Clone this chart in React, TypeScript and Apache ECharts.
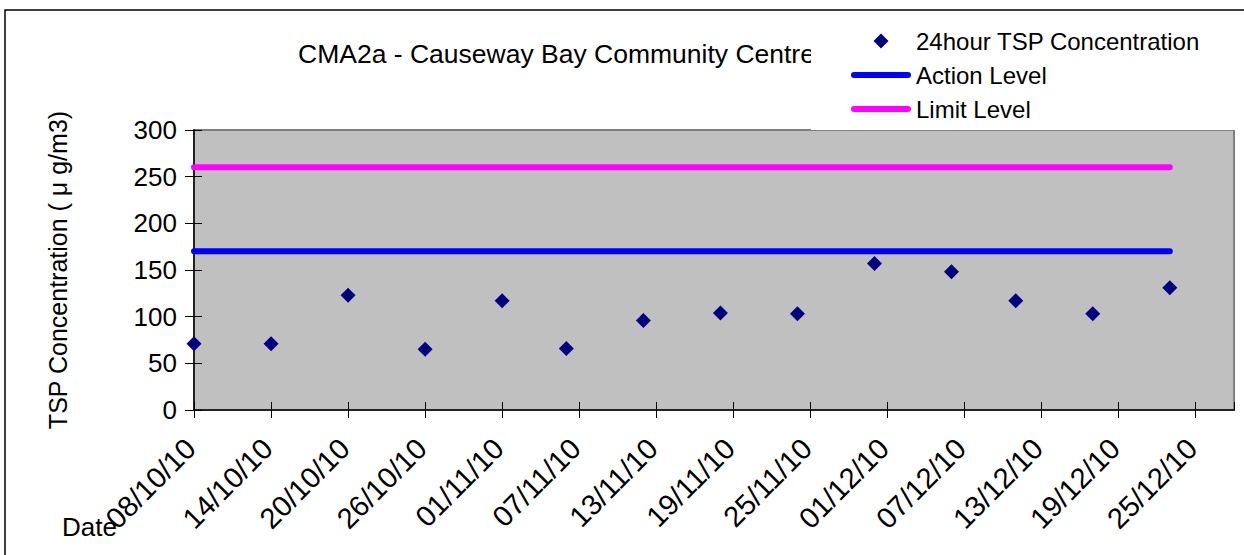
import React, { useEffect, useRef } from "react";
import * as echarts from "echarts";

const dates = ["08/10/10", "14/10/10", "20/10/10", "26/10/10", "01/11/10", "06/11/10", "12/11/10", "18/11/10", "24/11/10", "30/11/10", "06/12/10", "11/12/10", "17/12/10", "23/12/10"];
const tsp = [71, 71, 123, 65, 117, 66, 96, 104, 103, 157, 148, 117, 103, 131];
const actionLevel = [170, 170, 170, 170, 170, 170, 170, 170, 170, 170, 170, 170, 170, 170];
const limitLevel = [260, 260, 260, 260, 260, 260, 260, 260, 260, 260, 260, 260, 260, 260];
const xTickLabels = ["08/10/10", "14/10/10", "20/10/10", "26/10/10", "01/11/10", "07/11/10", "13/11/10", "19/11/10", "25/11/10", "01/12/10", "07/12/10", "13/12/10", "19/12/10", "25/12/10"];
const axisStartDate = "08/10/10";
const axisEndDate = "28/12/10";
const tickDays = 6;
const yMin = 0;
const yMax = 300;
const yStep = 50;

const titleText = "CMA2a - Causeway Bay Community Centre";
const yName = "TSP Concentration ( \u03bc g/m3)";
const seriesNames = ["24hour TSP Concentration", "Action Level", "Limit Level"];

const FONT = "'Liberation Sans', Arial, sans-serif";
const LINE_ICON = "path://M3,0 H57 A3,3 0 0 1 57,6 H3 A3,3 0 0 1 3,0 Z";
const DIAMOND_ICON = "path://M8,0 L16,8 L8,16 L0,8 Z";

function dayNum(s: string): number {
  const [d, m, y] = s.split("/").map(Number);
  return Date.UTC(2000 + y, m - 1, d) / 86400000;
}
const base = dayNum(axisStartDate);
const xOf = (s: string) => dayNum(s) - base;

export default function App() {
  const ref = useRef<HTMLDivElement>(null);
  useEffect(() => {
    if (!ref.current) return;
    const chart = echarts.init(ref.current, null, { renderer: "svg" });
    const xMax = xOf(axisEndDate);
    const labelFmt = (v: number) => {
      const i = v / tickDays;
      return Number.isInteger(i) && i >= 0 && i < xTickLabels.length ? xTickLabels[i] : "";
    };
    chart.setOption({
      animation: false,
      backgroundColor: "#ffffff",
      textStyle: { fontFamily: FONT },
      title: {
        text: titleText,
        left: 298,
        top: 40,
        padding: 0,
        textStyle: { fontFamily: FONT, fontSize: 26.5, fontWeight: "normal", color: "#000" },
      },
      legend: {
        orient: "vertical",
        left: 851,
        top: 29,
        padding: 0,
        z: 200,
        itemWidth: 60,
        itemHeight: 15,
        itemGap: 10,
        symbolKeepAspect: true,
        data: [
          { name: seriesNames[0], icon: DIAMOND_ICON },
          { name: seriesNames[1], icon: LINE_ICON },
          { name: seriesNames[2], icon: LINE_ICON },
        ],
        textStyle: { fontFamily: FONT, fontSize: 24, color: "#000", lineHeight: 24 },
      },
      grid: {
        left: 194,
        right: 10,
        top: 130,
        bottom: 145,
        show: true,
        backgroundColor: "#c0c0c0",
        borderColor: "#808080",
        borderWidth: 2,
      },
      xAxis: [
        {
          type: "value",
          min: 0,
          max: xMax,
          interval: tickDays,
          axisLine: { show: true, onZero: false, lineStyle: { color: "#222", width: 2 } },
          axisTick: { show: true, inside: false, length: 8, lineStyle: { color: "#000", width: 1 } },
          axisLabel: {
            formatter: labelFmt,
            rotate: 45,
            margin: 30,
            padding: [0, 5, 0, 0],
            fontFamily: FONT,
            fontSize: 29,
            color: "#000",
            showMaxLabel: false,
          },
          splitLine: { show: false },
        },
        {
          type: "value",
          position: "bottom",
          min: 0,
          max: xMax,
          interval: tickDays,
          axisLine: { show: false, onZero: false },
          axisTick: { show: true, inside: true, length: 8, lineStyle: { color: "#000", width: 1 } },
          axisLabel: { show: false },
          splitLine: { show: false },
        },
      ],
      yAxis: [
        {
          type: "value",
          min: yMin,
          max: yMax,
          interval: yStep,
          name: yName,
          nameLocation: "middle",
          nameGap: 124,
          nameTextStyle: { fontFamily: FONT, fontSize: 25, color: "#000" },
          axisLine: { show: true, onZero: false, lineStyle: { color: "#222", width: 2 } },
          axisTick: { show: true, inside: false, length: 9, lineStyle: { color: "#000", width: 1 } },
          axisLabel: { margin: 17, fontFamily: FONT, fontSize: 26, color: "#000" },
          splitLine: { show: false },
        },
        {
          type: "value",
          position: "left",
          min: yMin,
          max: yMax,
          interval: yStep,
          axisLine: { show: false, onZero: false },
          axisTick: { show: true, inside: true, length: 8, lineStyle: { color: "#000", width: 1 } },
          axisLabel: { show: false },
          splitLine: { show: false },
        },
      ],
      graphic: [
        {
          type: "rect",
          z: 1,
          shape: { x: 5, y: 10, width: 1400, height: 700 },
          style: { fill: "none", stroke: "#000", lineWidth: 1.5 },
          silent: true,
        },
        {
          type: "rect",
          z: 100,
          shape: { x: 811, y: 20, width: 440, height: 110 },
          style: { fill: "#ffffff" },
          silent: true,
        },
        {
          type: "text",
          z: 100,
          left: 62,
          top: 514,
          style: { text: "Date", fontFamily: FONT, fontSize: 26, fill: "#000" },
        },
      ],
      series: [
        {
          name: seriesNames[0],
          type: "scatter",
          symbol: "diamond",
          symbolSize: 15,
          itemStyle: { color: "#000080", opacity: 1 },
          data: dates.map((d, i) => [xOf(d), tsp[i]]),
          z: 5,
        },
        {
          name: seriesNames[1],
          type: "line",
          symbol: "none",
          lineStyle: { color: "#0000ff", width: 6, cap: "round" },
          itemStyle: { color: "#0000ff" },
          data: dates.map((d, i) => [xOf(d), actionLevel[i]]),
          z: 3,
        },
        {
          name: seriesNames[2],
          type: "line",
          symbol: "none",
          lineStyle: { color: "#ff00ff", width: 6, cap: "round" },
          itemStyle: { color: "#ff00ff" },
          data: dates.map((d, i) => [xOf(d), limitLevel[i]]),
          z: 3,
        },
      ],
    });
    return () => chart.dispose();
  }, []);
  return (
    <div
      ref={ref}
      style={{ position: "absolute", left: 0, top: 0, width: 1244, height: 555 }}
    />
  );
}
